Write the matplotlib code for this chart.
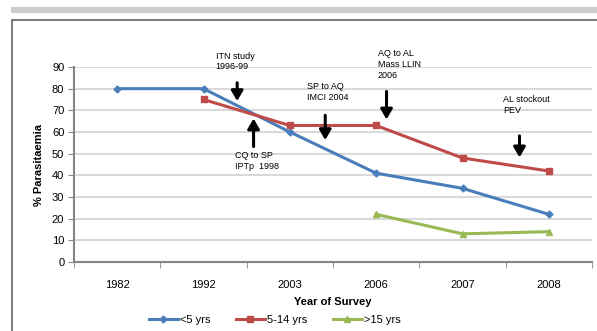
import matplotlib
matplotlib.use("Agg")
import matplotlib.pyplot as plt
from matplotlib.patches import Rectangle
from matplotlib.lines import Line2D

years = ["1982", "1992", "2003", "2006", "2007", "2008"]
under5 = [80, 80, 60, 41, 34, 22]
age5_14 = [None, 75, 63, 63, 48, 42]
over15 = [None, None, None, 22, 13, 14]
series_labels = ["<5 yrs", "5-14 yrs", ">15 yrs"]

# annotations: text, text x (category units), text y, arrow x, arrow start y, arrow end y
notes_text = ["ITN study\n1996-99", "CQ to SP\nIPTp  1998", "SP to AQ\nIMCI 2004",
              "AQ to AL\nMass LLIN\n2006", "AL stockout\nPEV"]
notes_tx = [1.14, 1.37, 2.2, 3.02, 4.47]
notes_ty = [88, 51, 74, 84, 68]
notes_ax = [1.39, 1.58, 2.41, 3.12, 4.66]
notes_y0 = [84, 52, 69, 80, 59.5]
notes_y1 = [73, 67.5, 55, 64.5, 47]
notes_va = ["bottom", "top", "bottom", "bottom", "bottom"]

W, H = 597, 331
fig = plt.figure(figsize=(W / 100, H / 100), dpi=100)
plt.rcParams['font.family'] = ['Liberation Sans', 'DejaVu Sans']

# decorative page elements
fig.patches.append(Rectangle((11 / W, 1 - 13 / H), 1, 6 / H, transform=fig.transFigure,
                             facecolor="#cccccc", edgecolor="none"))
fig.lines.append(Line2D([12 / W, 1], [1 - 20 / H, 1 - 20 / H], transform=fig.transFigure,
                        color="#808080", lw=1.5))
fig.lines.append(Line2D([12 / W, 12 / W], [0, 1 - 20 / H], transform=fig.transFigure,
                        color="#808080", lw=1.5))

left, right, bottom, top = 74 / W, 592 / W, 1 - 262 / H, 1 - 67 / H
ax = fig.add_axes([left, bottom, right - left, top - bottom])

x = list(range(len(years)))
def pts(vals):
    xs = [i for i, v in zip(x, vals) if v is not None]
    ys = [v for v in vals if v is not None]
    return xs, ys

ax.plot(*pts(under5), color="#4a7ebb", lw=2.2, marker="D", ms=3.5, label=series_labels[0])
ax.plot(*pts(age5_14), color="#be4b48", lw=2.2, marker="s", ms=4, label=series_labels[1])
ax.plot(*pts(over15), color="#98b954", lw=2.2, marker="^", ms=4, label=series_labels[2])

ax.set_xlim(-0.5, len(years) - 0.5)
ax.set_ylim(0, 90)
ax.set_yticks(range(0, 91, 10))
ax.set_xticks(x)
ax.set_xticklabels(years, fontsize=8)
ax.set_xticks([i - 0.5 for i in range(len(years) + 1)], minor=True)
ax.tick_params(axis="x", which="major", length=0, pad=13)
ax.tick_params(axis="x", which="minor", length=4, color="#868686", direction="out")
ax.tick_params(axis="y", labelsize=8, length=4, color="#868686", direction="out", pad=3)
ax.yaxis.grid(True, color="#d9d9d9", lw=1.5)
ax.set_axisbelow(True)
for s in ["top", "right"]:
    ax.spines[s].set_visible(False)
for s in ["left", "bottom"]:
    ax.spines[s].set_color("#868686")
    ax.spines[s].set_linewidth(1.5)

ax.set_xlabel("Year of Survey", fontsize=8, fontweight="bold", labelpad=5)
ax.set_ylabel("% Parasitaemia", fontsize=8, fontweight="bold", labelpad=6)

for t, tx, ty, axx, y0, y1, va in zip(notes_text, notes_tx, notes_ty, notes_ax,
                                      notes_y0, notes_y1, notes_va):
    ax.text(tx, ty, t, fontsize=6.5, va=va, ha="left", linespacing=1.25)
    ax.annotate("", xy=(axx, y1), xytext=(axx, y0),
                arrowprops=dict(arrowstyle="-|>,head_width=0.35,head_length=0.6",
                                color="black", lw=2.2))

leg = fig.legend(loc="center", bbox_to_anchor=(0.46, 1 - 320 / H), ncol=3, frameon=False,
                 fontsize=8, handlelength=2.6, columnspacing=2.3, handletextpad=0.2)

fig.savefig("out.png", dpi=100)
